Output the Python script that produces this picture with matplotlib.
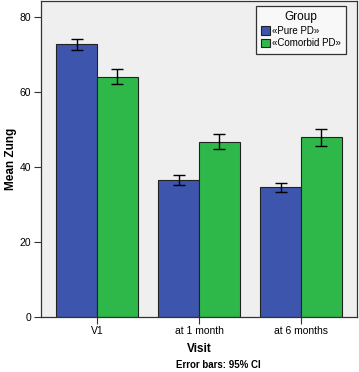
import numpy as np
import matplotlib
matplotlib.use("Agg")
import matplotlib.pyplot as plt
import matplotlib.patches as mpatches

plt.rcParams['font.family'] = ['Liberation Sans', 'DejaVu Sans']

# Data
visits = ['V1', 'at 1 month', 'at 6 months']
groups = ['«Pure PD»', '«Comorbid PD»']
pure_mean = [72.8, 36.6, 34.6]
pure_lo = [71.2, 35.3, 33.4]
pure_hi = [74.2, 37.9, 35.7]
comorbid_mean = [64.2, 46.8, 48.0]
comorbid_lo = [62.2, 44.8, 45.6]
comorbid_hi = [66.1, 48.9, 50.2]
y_ticks = [0, 20, 40, 60, 80]

colors = ['#3d55ad', '#2fb84a']

fig = plt.figure(figsize=(3.59, 3.72), dpi=100)
ax = fig.add_axes([41 / 359, 55.3 / 372, 316 / 359, 315.4 / 372])
ax.set_facecolor('#efefef')

x = np.arange(len(visits))
width = 0.4
series = [(pure_mean, pure_lo, pure_hi), (comorbid_mean, comorbid_lo, comorbid_hi)]
for i, (mean, lo, hi) in enumerate(series):
    mean = np.array(mean)
    err = [mean - np.array(lo), np.array(hi) - mean]
    pos = x + (i - 0.5) * width
    ax.bar(pos, mean, width, color=colors[i], edgecolor='#222222', linewidth=0.8, zorder=2)
    ax.errorbar(pos, mean, yerr=err, fmt='none', ecolor='black', elinewidth=1,
                capsize=4, capthick=1, zorder=3)

ax.set_xlim(-0.55, 2.55)
ax.set_ylim(0, 84.3)
ax.set_xticks(x)
ax.set_xticklabels(visits, fontsize=7.5)
ax.set_yticks(y_ticks)
ax.set_yticklabels([str(t) for t in y_ticks], fontsize=7.5)
ax.tick_params(direction='out', length=5, width=0.8, pad=2, color='#333333')

for s in ax.spines.values():
    s.set_color('#333333')
    s.set_linewidth(0.9)

# y label placed by hand so it sits where the reference has it
fig.text(11 / 359, 1 - 159 / 372, 'Mean Zung', fontsize=8.5, fontweight='bold',
         rotation=90, ha='center', va='center')
ax.set_xlabel('Visit', fontsize=8.5, fontweight='bold', labelpad=5)
fig.text(218 / 359, 1 - 365 / 372, 'Error bars: 95% CI', fontsize=7,
         fontweight='bold', ha='center', va='center')

handles = [mpatches.Patch(facecolor=c, edgecolor='#222222', linewidth=0.8) for c in colors]
leg = ax.legend(handles, groups, title='Group', loc='upper right',
                bbox_to_anchor=(0.965, 0.985), fontsize=7, title_fontsize=8.5,
                frameon=True, fancybox=False, handlelength=0.9, handleheight=1.0,
                handletextpad=0.2, borderpad=0.55, labelspacing=0.25, borderaxespad=0)
leg.get_frame().set_edgecolor('#333333')
leg.get_frame().set_linewidth(0.9)
leg.get_frame().set_facecolor('#f8f8f8')
leg.get_frame().set_alpha(1)

fig.savefig('out.png', dpi=100)
